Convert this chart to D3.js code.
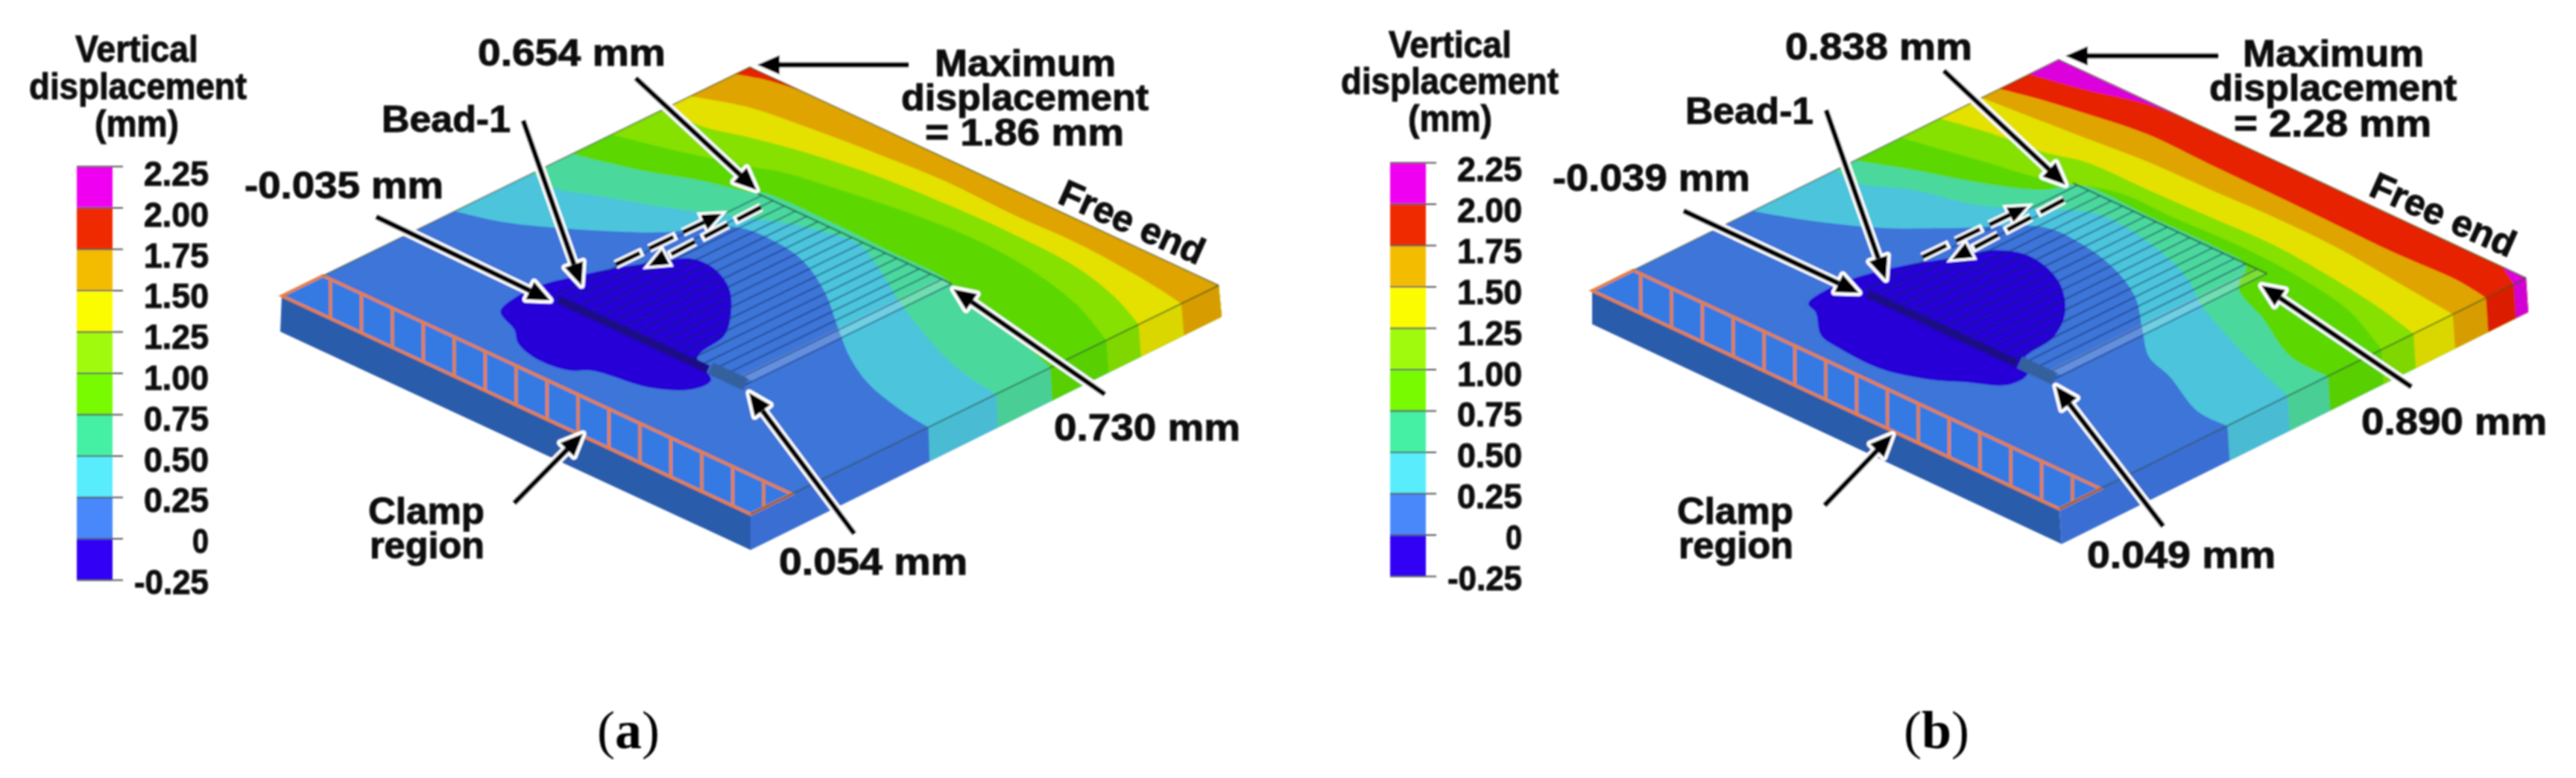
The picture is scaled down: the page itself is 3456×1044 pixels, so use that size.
<!DOCTYPE html>
<html>
<head>
<meta charset="utf-8">
<title>Vertical displacement</title>
<script src="https://cdnjs.cloudflare.com/ajax/libs/d3/7.8.5/d3.min.js"></script>
<style>
  html, body { margin: 0; padding: 0; background: #fff; }
  svg { display: block; }
  .lbl { font-family: "Liberation Sans Narrow", "Liberation Sans", Arial, sans-serif; font-weight: 700; fill: #0a0a0a; stroke: #0a0a0a; stroke-width: 1; }
</style>
</head>
<body>
<svg id="chart" width="3456" height="1044"></svg>
<script>
// colour key
var legendTicks = [-0.25, 0, 0.25, 0.5, 0.75, 1, 1.25, 1.5, 1.75, 2, 2.25];
var legendLabels = ["-0.25", "0", "0.25", "0.50", "0.75", "1.00", "1.25", "1.50", "1.75", "2.00", "2.25"];
var legendColors = ["#3000f4", "#4888fa", "#58ecfc", "#44f0a4", "#78fa00", "#a0fa08", "#fcfc00", "#f4bc00", "#f02c00", "#f000f0"];
var plateColors = ["#2600d6", "#3c74d8", "#4cc4dc", "#4cd89c", "#5cd800", "#86e000", "#e4e000", "#e0a400", "#e62000", "#dc00dc"];

// contour lines, as [s, t]:
// s = 0 clamped edge .. 1 free end, t = 0 far side .. 1 near side
var aBlob = [[.306,.262],[.338,.273],[.408,.301],[.458,.330],[.510,.364],[.512,.411],[.483,.472],[.430,.529],[.373,.572],[.295,.592],[.259,.657],[.221,.658],[.179,.608],[.161,.520],[.153,.501],[.132,.479],[.125,.414],[.141,.363],[.166,.331],[.193,.274],[.246,.258]];
var aLine025 = [[.37,0],[.396,.077],[.452,.167],[.536,.271],[.628,.344],[.635,.426],[.619,.498],[.573,.587],[.504,.685],[.454,.759],[.415,.837],[.388,.939],[.38,1]];
var aLine050 = [[.535,0],[.525,.058],[.555,.124],[.594,.213],[.647,.313],[.690,.392],[.710,.458],[.718,.513],[.692,.575],[.661,.634],[.625,.699],[.59,.775],[.555,.859],[.535,.93],[.525,1]];
var aLine075 = [[.62,0],[.658,.119],[.696,.204],[.717,.273],[.733,.300],[.737,.431],[.733,.563],[.728,.694],[.711,.731],[.684,.846],[.674,.897],[.64,1]];
var aLine100 = [[.705,0],[.728,.080],[.751,.149],[.774,.217],[.797,.265],[.821,.382],[.840,.505],[.849,.637],[.840,.753],[.808,.891],[.76,1]];
var aLine125 = [[.815,0],[.818,.082],[.840,.150],[.869,.262],[.889,.386],[.898,.518],[.901,.657],[.892,.808],[.862,.923],[.829,1]];
var aLine150 = [[.872,0],[.907,.083],[.926,.206],[.939,.336],[.948,.468],[.944,.614],[.947,.753],[.939,.867],[.929,.949],[.92,1]];
var aLine175 = [[.969,0],[.989,.05],[1,.109]];

var bBlob = [[.306,.262],[.384,.289],[.452,.326],[.510,.354],[.532,.411],[.505,.495],[.445,.568],[.378,.611],[.296,.628],[.267,.665],[.224,.668],[.183,.612],[.153,.569],[.126,.490],[.129,.398],[.139,.351],[.184,.295],[.196,.267],[.254,.256]];
var bLine025 = [[.344,0],[.385,.089],[.439,.177],[.507,.251],[.612,.358],[.614,.428],[.594,.520],[.551,.612],[.487,.691],[.432,.760],[.410,.826],[.361,.935],[.36,1]];
var bLine050 = [[.521,0],[.515,.052],[.558,.130],[.593,.236],[.691,.372],[.699,.425],[.676,.548],[.645,.631],[.603,.700],[.572,.770],[.534,.867],[.489,1]];
var bLine075 = [[.563,0],[.603,.085],[.643,.186],[.696,.275],[.742,.30],[.745,.45],[.745,.60],[.735,.665],[.678,.706],[.636,.80],[.58,.915],[.575,1]];
var bLine100 = [[.662,0],[.693,.136],[.719,.252],[.765,.358],[.768,.487],[.773,.616],[.765,.757],[.742,.88],[.69,1]];
var bLine125 = [[.745,0],[.767,.097],[.779,.192],[.80,.257],[.803,.388],[.807,.515],[.811,.645],[.798,.792],[.781,.904],[.759,1]];
var bLine150 = [[.835,0],[.846,.125],[.853,.204],[.865,.326],[.868,.455],[.873,.583],[.871,.718],[.857,.864],[.843,1]];
var bLine175 = [[.873,0],[.894,.077],[.908,.149],[.926,.264],[.924,.398],[.923,.533],[.921,.668],[.919,.802],[.923,.932],[.914,1]];
var bLine200 = [[.937,0],[.961,.096],[.993,.198],[1,.271]];
var bLine200b = [[1,.95],[.974,1]];

// weld passes and clamp rungs, t positions
var ribs = [.30,.324,.348,.372,.396,.42,.444,.468,.492,.516,.54,.564,.588,.612,.636,.66,.684,.705];
var clampRungs = [.016,.082,.148,.214,.28,.346,.412,.478,.544,.61,.676,.742,.808,.874,.94];

var svg = d3.select("#chart");
var defs = svg.append("defs");
var soft = defs.append("filter").attr("id", "soft").attr("x", 0).attr("y", 0).attr("width", 1).attr("height", 1);
soft.append("feGaussianBlur").attr("stdDeviation", 0.8);
var root = svg.append("g").attr("filter", "url(#soft)");

// text with a fixed span, so the condensed look of the original is kept
function label(g, txt, x0, x1, base, size) {
  return g.append("text").attr("class", "lbl")
    .attr("x", x0).attr("y", base)
    .attr("font-size", size || 50)
    .attr("textLength", x1 - x0)
    .attr("lengthAdjust", "spacingAndGlyphs")
    .text(txt);
}

function arrow(g, from, to) {
  var dx = to[0] - from[0], dy = to[1] - from[1];
  var len = Math.sqrt(dx * dx + dy * dy);
  var ux = dx / len, uy = dy / len;
  var head = 30, half = 13;
  var bx = to[0] - ux * head, by = to[1] - uy * head;
  var tri = [[to[0], to[1]], [bx - uy * half, by + ux * half], [bx + uy * half, by - ux * half]];
  // white halo first, then the black arrow
  g.append("line").attr("x1", from[0]).attr("y1", from[1]).attr("x2", bx).attr("y2", by)
    .attr("stroke", "#fff").attr("stroke-width", 14);
  g.append("polygon").attr("points", tri.join(" ")).attr("fill", "#fff")
    .attr("stroke", "#fff").attr("stroke-width", 9).attr("stroke-linejoin", "round");
  g.append("line").attr("x1", from[0]).attr("y1", from[1]).attr("x2", bx).attr("y2", by)
    .attr("stroke", "#000").attr("stroke-width", 7);
  g.append("polygon").attr("points", tri.join(" ")).attr("fill", "#000");
}

function dashedArrow(g, from, to) {
  var dx = to[0] - from[0], dy = to[1] - from[1];
  var len = Math.sqrt(dx * dx + dy * dy);
  var bx = to[0] - dx / len * 26, by = to[1] - dy / len * 26;
  var ux = dx / len, uy = dy / len;
  var tri = [[to[0], to[1]], [bx - uy * 11, by + ux * 11], [bx + uy * 11, by - ux * 11]];
  g.append("line").attr("x1", from[0]).attr("y1", from[1]).attr("x2", bx).attr("y2", by)
    .attr("stroke", "#fff").attr("stroke-width", 12).attr("stroke-dasharray", "40 10");
  g.append("polygon").attr("points", tri.join(" ")).attr("fill", "#fff").attr("stroke", "#fff").attr("stroke-width", 7);
  g.append("line").attr("x1", from[0]).attr("y1", from[1]).attr("x2", bx).attr("y2", by)
    .attr("stroke", "#000").attr("stroke-width", 6).attr("stroke-dasharray", "36 14");
  g.append("polygon").attr("points", tri.join(" ")).attr("fill", "#000");
}

function drawLegend(g, cfg) {
  var y = d3.scaleLinear().domain([-0.25, 2.25]).range([cfg.barBottom, cfg.barTop]);
  var labelY = d3.scaleLinear().domain([-0.25, 2.25]).range([cfg.labelBottom, cfg.labelTop]);

  g.selectAll("rect.band").data(legendColors).enter().append("rect")
    .attr("class", "band")
    .attr("x", cfg.barX).attr("width", cfg.barW)
    .attr("y", function (d, i) { return y(legendTicks[i + 1]); })
    .attr("height", function (d, i) { return y(legendTicks[i]) - y(legendTicks[i + 1]); })
    .attr("fill", function (d) { return d; });

  var axis = d3.axisRight(y).tickValues(legendTicks).tickSize(14).tickFormat("");
  var ag = g.append("g").attr("transform", "translate(" + (cfg.barX + cfg.barW) + ",0)").call(axis);
  ag.select(".domain").remove();
  ag.selectAll("line").attr("stroke", "#555").attr("stroke-width", 2);
  // the ticks run across the bar as well
  ag.selectAll("line").attr("x1", -cfg.barW);

  legendTicks.forEach(function (v, i) {
    var txt = legendLabels[i];
    var w = txt.length === 1 ? 22 : txt.length === 5 ? 100 : 87;
    label(g, txt, cfg.labelRight - w, cfg.labelRight, labelY(v) + 17, 47);
  });
}

function drawPlate(g, cfg) {
  var xS = d3.scaleLinear().domain([0, 1]).range([0, cfg.sVec[0]]);
  var yS = d3.scaleLinear().domain([0, 1]).range([0, cfg.sVec[1]]);
  var xT = d3.scaleLinear().domain([0, 1]).range([0, cfg.tVec[0]]);
  var yT = d3.scaleLinear().domain([0, 1]).range([0, cfg.tVec[1]]);
  function P(d) {
    return [cfg.origin[0] + xS(d[0]) + xT(d[1]), cfg.origin[1] + yS(d[0]) + yT(d[1])];
  }
  var depthX = d3.scaleLinear().domain([0, 1]).range(cfg.depthX);
  var depthY = d3.scaleLinear().domain([0, 1]).range(cfg.depthY);
  function low(s) { // point under the near edge, t = 1
    var p = P([s, 1]);
    return [p[0] + depthX(s), p[1] + depthY(s)];
  }
  function poly(points) { return points.map(function (p) { return p.join(","); }).join(" "); }

  // side faces
  var lowL = [cfg.origin[0] + cfg.lowL[0], cfg.origin[1] + cfg.lowL[1]];
  g.append("polygon").attr("points", poly([P([0, 0]), P([0, 1]), low(0), lowL])).attr("fill", "#2c5cac");
  g.append("polygon").attr("points", poly([P([0, 1]), P([1, 1]), low(1), low(0)])).attr("fill", "#3a6ed2");
  cfg.lines.forEach(function (l) {
    var last = l.line[l.line.length - 1];
    if (last[1] !== 1) return;
    var s0 = last[0];
    g.append("polygon").attr("points", poly([P([s0, 1]), P([1, 1]), low(1), low(s0)]))
      .attr("fill", d3.color(plateColors[l.band]).darker(0.12));
  });

  // top face with the contour bands, painted from low to high
  var clipId = cfg.id + "clip";
  defs.append("clipPath").attr("id", clipId).append("polygon")
    .attr("points", poly([P([0, 0]), P([1, 0]), P([1, 1]), P([0, 1])]));
  var top = g.append("g").attr("clip-path", "url(#" + clipId + ")");
  var curve = d3.line().curve(d3.curveCatmullRom.alpha(0.5));

  top.append("polygon").attr("points", poly([P([0, 0]), P([1, 0]), P([1, 1]), P([0, 1])])).attr("fill", plateColors[1]);
  cfg.lines.forEach(function (l) {
    var path = curve(l.line.map(P));
    l.close.forEach(function (c) { var p = P(c); path += "L" + p[0] + "," + p[1]; });
    top.append("path").attr("d", path + "Z").attr("fill", plateColors[l.band]);
  });

  // cooled zone round the bead
  top.append("path")
    .attr("d", d3.line().curve(d3.curveCatmullRomClosed.alpha(0.5))(cfg.blob.map(P)))
    .attr("fill", plateColors[0]);

  // strip at the near end of the weld
  top.append("polygon").attr("points", poly([P([.3, .68]), P([cfg.weldEnd, .68]), P([cfg.weldEnd, .705]), P([.3, .705])]))
    .attr("fill", "#fff").attr("opacity", 0.2);

  // weld passes
  top.selectAll("line.rib").data(ribs).enter().append("line")
    .attr("class", "rib")
    .attr("x1", function (d) { return P([.28, d])[0]; })
    .attr("y1", function (d) { return P([.28, d])[1]; })
    .attr("x2", function (d) { return P([cfg.weldEnd, d])[0]; })
    .attr("y2", function (d) { return P([cfg.weldEnd, d])[1]; })
    .attr("stroke", "#0c2c5c").attr("stroke-opacity", 0.5).attr("stroke-width", 2);
  top.append("line")
    .attr("x1", P([cfg.weldEnd, .29])[0]).attr("y1", P([cfg.weldEnd, .29])[1])
    .attr("x2", P([cfg.weldEnd, .705])[0]).attr("y2", P([cfg.weldEnd, .705])[1])
    .attr("stroke", "#14502c").attr("stroke-opacity", 0.6).attr("stroke-width", 2.5);

  // bead and the slate end of it
  top.append("line")
    .attr("x1", P([.28, .31])[0]).attr("y1", P([.28, .31])[1])
    .attr("x2", P([.28, .63])[0]).attr("y2", P([.28, .63])[1])
    .attr("stroke", "#1a0a86").attr("stroke-width", 11);
  top.append("line")
    .attr("x1", P([.285, .63])[0]).attr("y1", P([.285, .63])[1])
    .attr("x2", P([.285, .705])[0]).attr("y2", P([.285, .705])[1])
    .attr("stroke", "#34609e").attr("stroke-width", 17);

  // clamp
  var clampS = .088;
  var cg = g.append("g");
  cg.append("polygon").attr("points", poly([P([0, 0]), P([clampS, 0]), P([clampS, 1]), P([0, 1])]))
    .attr("fill", "#2f82f2").attr("fill-opacity", 0.45)
    .attr("stroke", "#e8803c").attr("stroke-width", 4).attr("stroke-linejoin", "miter");
  cg.selectAll("line.rung").data(clampRungs).enter().append("line")
    .attr("class", "rung")
    .each(function (d) {
      var a = P([clampS, d]);
      var end = d + clampS, f = 1;
      if (end > 1) { f = (1 - d) / clampS; end = 1; }
      var b = P([clampS * (1 - f), end]);
      d3.select(this).attr("x1", a[0]).attr("y1", a[1]).attr("x2", b[0]).attr("y2", b[1]);
    })
    .attr("stroke", "#e8803c").attr("stroke-width", 4);

  // thin edges
  g.append("polyline").attr("points", poly([P([clampS, 0]), P([1, 0]), P([1, 1])]))
    .attr("fill", "none").attr("stroke", "#3a4a30").attr("stroke-opacity", 0.55).attr("stroke-width", 2);
  g.append("line").attr("x1", P([0, 1])[0]).attr("y1", P([0, 1])[1]).attr("x2", P([1, 1])[0]).attr("y2", P([1, 1])[1])
    .attr("stroke", "#1c3418").attr("stroke-opacity", 0.5).attr("stroke-width", 2);
}

var upper = [[1, 1], [1, 0]];
var farCorner = [[1, 0]];
var nearCorner = [[1, 1]];

var panelA = {
  id: "a",
  origin: [378, 397], sVec: [628, -307], tVec: [629, 293],
  lowL: [-2, 48], depthX: [0, 4], depthY: [48, 42], weldEnd: .725,
  blob: aBlob,
  lines: [
    { line: aLine025, band: 2, close: upper }, { line: aLine050, band: 3, close: upper },
    { line: aLine075, band: 4, close: upper }, { line: aLine100, band: 5, close: upper },
    { line: aLine125, band: 6, close: upper }, { line: aLine150, band: 7, close: upper },
    { line: aLine175, band: 8, close: farCorner }
  ],
  barX: 103, barW: 48, barTop: 223, barBottom: 778, labelTop: 232, labelBottom: 780, labelRight: 280
};
var panelB = {
  id: "b",
  origin: [2136, 390], sVec: [626, -310], tVec: [627, 293],
  lowL: [0, 45], depthX: [3, 3], depthY: [47, 46], weldEnd: .74,
  blob: bBlob,
  lines: [
    { line: bLine025, band: 2, close: upper }, { line: bLine050, band: 3, close: upper },
    { line: bLine075, band: 4, close: upper }, { line: bLine100, band: 5, close: upper },
    { line: bLine125, band: 6, close: upper }, { line: bLine150, band: 7, close: upper },
    { line: bLine175, band: 8, close: upper }, { line: bLine200, band: 9, close: farCorner },
    { line: bLine200b, band: 9, close: nearCorner }
  ],
  barX: 1865, barW: 48, barTop: 218, barBottom: 773, labelTop: 226, labelBottom: 775, labelRight: 2042
};

var gA = root.append("g"), gB = root.append("g");
drawLegend(gA, panelA); drawPlate(gA, panelA);
drawLegend(gB, panelB); drawPlate(gB, panelB);

// annotation arrows
[[[853,105],[1015,255]], [[1219,87],[1016,87]], [[702,162],[780,383]], [[505,291],[738,403]],
 [[1482,529],[1279,388]], [[1146,716],[1005,527]], [[690,675],[782,582]]
].forEach(function (a) { arrow(gA, a[0], a[1]); });
dashedArrow(gA, [826,355], [968,287]);
dashedArrow(gA, [1021,278], [870,357]);

[[[2608,95],[2771,248]], [[2976,75],[2771,75]], [[2450,148],[2530,375]], [[2259,283],[2494,393]],
 [[3235,519],[3034,383]], [[2902,706],[2758,518]], [[2448,678],[2539,583]]
].forEach(function (a) { arrow(gB, a[0], a[1]); });
dashedArrow(gB, [2579,345], [2720,277]);
dashedArrow(gB, [2769,268], [2619,348]);

// texts: string, left, right, baseline
[["Vertical",101,266,83],["displacement",39,331,133],["(mm)",127,240,183],
 ["0.654 mm",641,893,88],["Maximum",1254,1497,102],["displacement",1209,1541,148],["= 1.86 mm",1241,1508,195],
 ["Bead-1",512,685,177],["-0.035 mm",328,595,266],["0.730 mm",1414,1664,591],["0.054 mm",1045,1298,771],
 ["Clamp",494,650,703],["region",496,650,749],
 ["Vertical",1863,2028,77],["displacement",1799,2091,126],["(mm)",1889,2002,176],
 ["0.838 mm",2395,2646,80],["Maximum",3009,3252,89],["displacement",2964,3296,135],["= 2.28 mm",2997,3262,183],
 ["Bead-1",2261,2433,166],["-0.039 mm",2083,2348,256],["0.890 mm",3168,3417,583],["0.049 mm",2800,3053,762],
 ["Clamp",2250,2406,703],["region",2252,2406,749]
].forEach(function (t) { label(root, t[0], t[1], t[2], t[3]); });

[[1518,300],[3277,290]].forEach(function (c) {
  label(root, "Free end", -104, 104, 15)
    .attr("transform", "translate(" + c[0] + "," + c[1] + ") rotate(24)");
});

// panel letters
[["a",843],["b",2598]].forEach(function (p) {
  var t = root.append("text").attr("x", p[1]).attr("y", 1004)
    .attr("text-anchor", "middle")
    .attr("font-family", "'Liberation Serif', 'DejaVu Serif', serif")
    .attr("font-size", 72).attr("fill", "#000");
  t.append("tspan").text("(");
  t.append("tspan").attr("font-weight", 700).text(p[0]);
  t.append("tspan").text(")");
});
</script>
</body>
</html>
